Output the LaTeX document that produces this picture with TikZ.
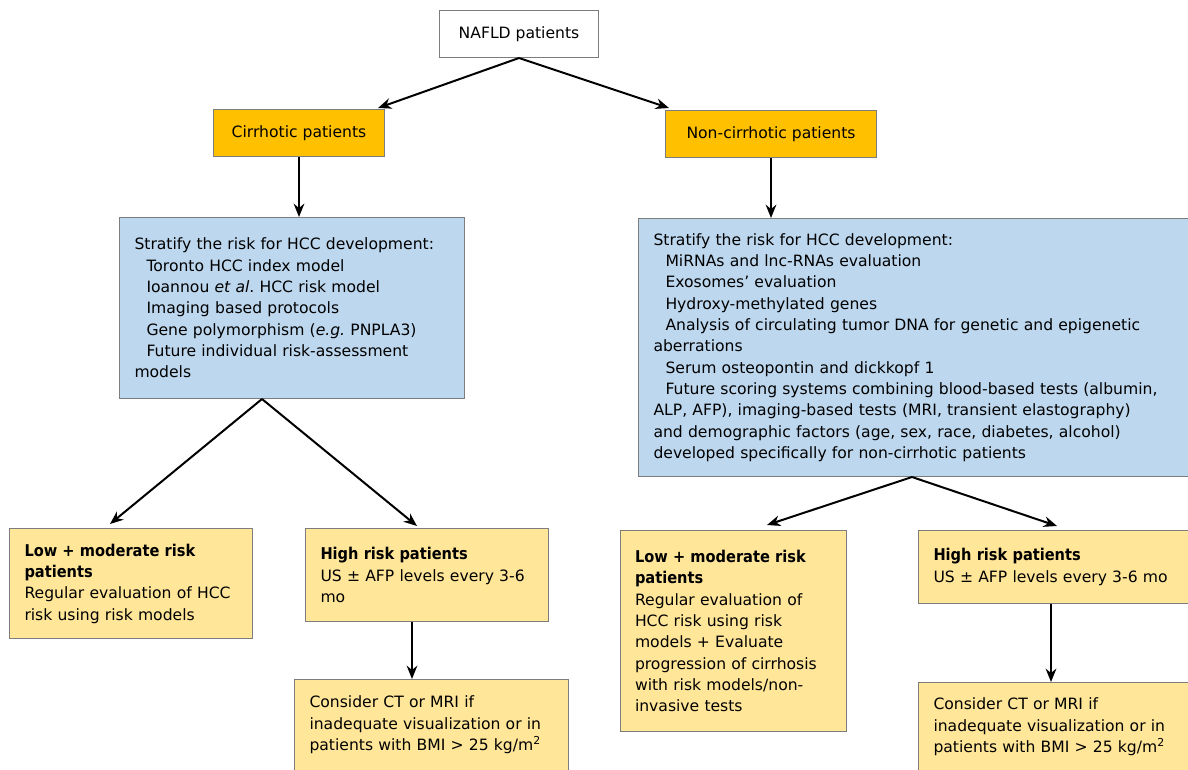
\documentclass[tikz,border=0pt]{standalone}
\usepackage{fontspec}
\setmainfont{DejaVu Sans}[BoldFont={DejaVu Sans Condensed Bold},BoldFeatures={Scale=1.04}]
\usetikzlibrary{arrows.meta,calc}
\definecolor{boxline}{RGB}{125,125,125}
\definecolor{cirrfill}{RGB}{255,192,0}
\definecolor{riskfill}{RGB}{189,215,238}
\definecolor{advfill}{RGB}{255,230,153}
\newcommand{\stepin}{\hspace*{9pt}}
\frenchspacing
\hyphenpenalty=10000

\begin{document}
\begin{tikzpicture}[x=0.75pt,y=-0.75pt,
  box/.style={draw=boxline,line width=0.75pt,anchor=north west,inner xsep=11.25pt,
    font=\fontsize{11.7}{16}\selectfont},
  start/.style={box,fill=white,align=center},
  group/.style={box,fill=cirrfill,align=center},
  risk/.style={box,fill=riskfill,align=left},
  advice/.style={box,fill=advfill,align=left},
  link/.style={->,line width=1.5pt},
  >={Stealth[length=10pt,width=8pt]}]
\path[use as bounding box,fill=white] (0,0) rectangle (1188,769);

% top of the tree
\node[start,minimum width=119.25pt,minimum height=35.25pt] (nafld) at (439,10) {NAFLD patients};
\node[group,minimum width=128.25pt,minimum height=35.25pt] (cirr) at (213,109) {Cirrhotic patients};
\node[group,minimum width=158.25pt,minimum height=35.25pt] (noncirr) at (665,110) {Non-cirrhotic patients};

% risk stratification
\node[risk,text width=236.25pt,minimum height=135.75pt] (lrisk) at (119,217) {Stratify the risk for HCC development:\\
\stepin Toronto HCC index model\\
\stepin Ioannou \textit{et al}. HCC risk model\\
\stepin Imaging based protocols\\
\stepin Gene polymorphism (\textit{e.g.} PNPLA3)\\
\stepin Future individual risk-assessment\\
models};
\node[risk,text width=395.25pt,minimum height=193.5pt] (rrisk) at (638,218) {Stratify the risk for HCC development:\\
\stepin MiRNAs and lnc-RNAs evaluation\\
\stepin Exosomes’ evaluation\\
\stepin Hydroxy-methylated genes\\
\stepin Analysis of circulating tumor DNA for genetic and epigenetic\\
aberrations\\
\stepin Serum osteopontin and dickkopf 1\\
\stepin Future scoring systems combining blood-based tests (albumin,\\
ALP, AFP), imaging-based tests (MRI, transient elastography)\\
and demographic factors (age, sex, race, diabetes, alcohol)\\
developed specifically for non-cirrhotic patients};

% cirrhotic branch
\node[advice,text width=159.75pt,minimum height=82.5pt] (lowL) at (9,528) {\textbf{Low + moderate risk}\\
\textbf{patients}\\
Regular evaluation of HCC\\
risk using risk models};
\node[advice,text width=159.75pt,minimum height=69.75pt] (highL) at (305,528) {\textbf{High risk patients}\\
US ± AFP levels every 3-6\\
mo};
\node[advice,text width=183pt,minimum height=68.25pt] (consL) at (294,679) {Consider CT or MRI if\\
inadequate visualization or in\\
patients with BMI > 25 kg/m\textsuperscript{2}};

% non-cirrhotic branch
\node[advice,text width=147pt,minimum height=150.75pt] (lowR) at (619.5,530) {\textbf{Low + moderate risk}\\
\textbf{patients}\\
Regular evaluation of\\
HCC risk using risk\\
models + Evaluate\\
progression of cirrhosis\\
with risk models/non-\\
invasive tests};
\node[advice,text width=185.25pt,minimum height=54.75pt] (highR) at (918,530) {\textbf{High risk patients}\\
US ± AFP levels every 3-6 mo};
\node[advice,text width=185.25pt,minimum height=66.75pt] (consR) at (918,682) {Consider CT or MRI if\\
inadequate visualization or in\\
patients with BMI > 25 kg/m\textsuperscript{2}};

% connectors
\coordinate (lfork) at ($(lrisk.south west)+(143,0)$);
\coordinate (rfork) at ($(rrisk.south west)+(274,0)$);
\coordinate (lhdrop) at ($(highL.south west)+(107,0)$);
\coordinate (rhdrop) at ($(highR.south west)+(133,0)$);
\draw[link] (nafld.south) -- ($(cirr.north east)+(-7,-1)$);
\draw[link] (nafld.south) -- ($(noncirr.north west)+(4,-2)$);
\draw[link] (cirr.south) -- (cirr.south |- lrisk.north);
\draw[link] (noncirr.south) -- (noncirr.south |- rrisk.north);
\draw[link] (lfork) -- ($(lowL.north west)+(101,-4)$);
\draw[link] (lfork) -- ($(highL.north west)+(112,-2)$);
\draw[link] (lhdrop) -- (lhdrop |- consL.north);
\draw[link] (rfork) -- ($(lowR.north west)+(147.5,-5)$);
\draw[link] (rfork) -- ($(highR.north west)+(139,-4)$);
\draw[link] (rhdrop) -- (rhdrop |- consR.north);
\end{tikzpicture}
\end{document}
